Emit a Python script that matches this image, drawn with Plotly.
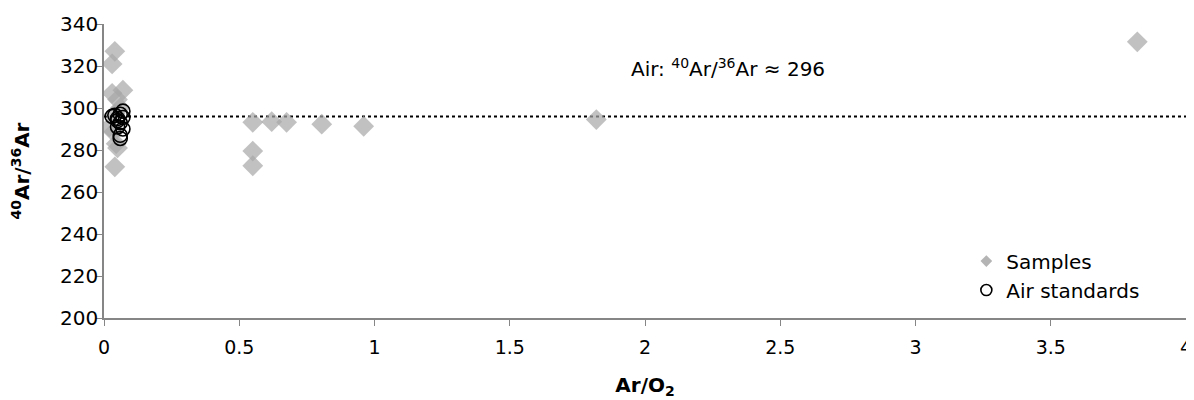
import plotly.graph_objects as go

# Samples
sample_x = [0.04, 0.03, 0.03, 0.07, 0.05, 0.06, 0.04, 0.02, 0.035, 0.045, 0.05, 0.04,
            0.55, 0.55, 0.55, 0.62, 0.675, 0.805, 0.96, 1.82, 3.82]
sample_y = [327, 321, 307, 308.5, 304, 300, 297, 291, 288.5, 283, 281, 272,
            293.2, 279.5, 272.5, 293.5, 293.2, 292.3, 291.3, 294.5, 331.5]

# Air standards
air_x = [0.03, 0.05, 0.06, 0.07, 0.06, 0.05, 0.07, 0.06, 0.06, 0.05, 0.07, 0.04]
air_y = [296, 295, 297, 298.5, 293, 291, 290, 287, 285.5, 294, 295.5, 296.5]

# Air reference line
air_ratio = 296
line_x = [0, 4]

x_ticks = [0, 0.5, 1, 1.5, 2, 2.5, 3, 3.5, 4]
x_labels = ["0", "0.5", "1", "1.5", "2", "2.5", "3", "3.5", "4"]
y_ticks = [200, 220, 240, 260, 280, 300, 320, 340]

FONT = "DejaVu Sans, Verdana, sans-serif"
FS = 20

fig = go.Figure()

fig.add_trace(go.Scatter(
    x=line_x, y=[air_ratio] * len(line_x), mode="lines",
    line=dict(color="black", width=2, dash="dot"),
    showlegend=False, hoverinfo="skip"))

fig.add_trace(go.Scatter(
    x=sample_x, y=sample_y, mode="markers", name="Samples",
    marker=dict(symbol="diamond", size=16, color="rgba(166,166,166,0.7)",
                line=dict(width=0)),
    showlegend=False))

fig.add_trace(go.Scatter(
    x=air_x, y=air_y, mode="markers", name="Air standards",
    marker=dict(symbol="circle-open", size=14, color="black",
                line=dict(width=1.6, color="black")),
    showlegend=False))

# legend entries
fig.add_trace(go.Scatter(
    x=[None], y=[None], mode="markers", name="Samples",
    marker=dict(symbol="diamond", size=9, color="rgb(180,180,180)")))
fig.add_trace(go.Scatter(
    x=[None], y=[None], mode="markers", name="Air standards",
    marker=dict(symbol="circle-open", size=11, color="black",
                line=dict(width=1.6, color="black"))))

fig.add_annotation(
    x=0.485, y=0.9, xref="paper", yref="paper", showarrow=False,
    text="Air: <sup>40</sup>Ar/<sup>36</sup>Ar ≈ 296",
    font=dict(size=FS, color="black", family=FONT), xanchor="left")

fig.update_layout(
    width=1194, height=400,
    margin=dict(l=96, r=16, t=16, b=90, autoexpand=False),
    paper_bgcolor="white", plot_bgcolor="white",
    font=dict(family=FONT, size=FS, color="black"),
    legend=dict(x=0.797, y=0.26, xanchor="left", yanchor="top",
                bgcolor="rgba(0,0,0,0)", font=dict(size=FS),
                itemwidth=30, tracegroupgap=0),
    xaxis=dict(range=[0, 4.00001], tickvals=x_ticks, ticktext=x_labels,
               showgrid=False, zeroline=False, automargin=False,
               ticklabeloverflow="allow", ticklabelstandoff=5,
               tickfont=dict(size=19),
               showline=True, linecolor="#868686", linewidth=1.5,
               ticks="outside", ticklen=6, tickcolor="#868686",
               title=dict(text="<b>Ar/O<sub>2</sub></b>", standoff=21,
                          font=dict(size=FS))),
    yaxis=dict(range=[200, 340.00001], tickvals=y_ticks,
               showgrid=False, zeroline=False, automargin=False,
               ticklabeloverflow="allow", ticklabelstandoff=-6,
               showline=True, linecolor="#868686", linewidth=1.5,
               ticks="outside", ticklen=6, tickcolor="#868686",
               title=dict(text="<b><sup>40</sup>Ar/<sup>36</sup>Ar</b>", standoff=28,
                          font=dict(size=FS))),
)

fig.write_html("out.html")
